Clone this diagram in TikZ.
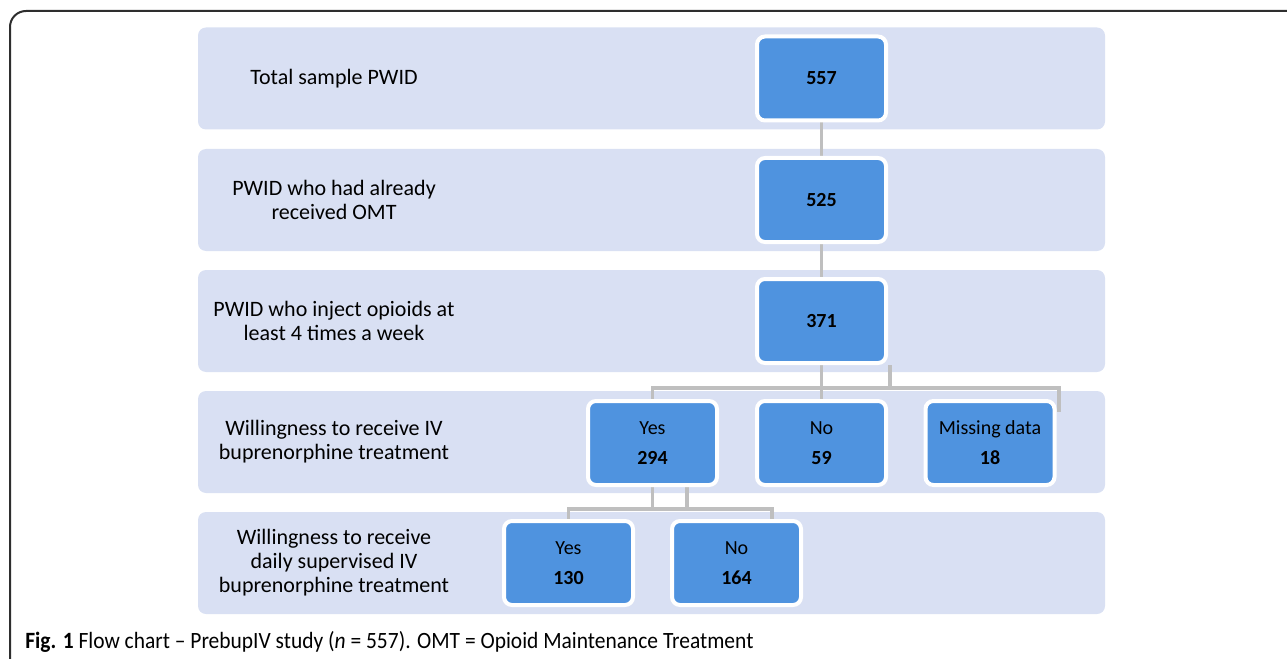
\documentclass[tikz,border=0pt]{standalone}
\usepackage{fontspec}
\setmainfont{Carlito}
\newfontfamily\capfont{Carlito}[FakeStretch=0.92]
\definecolor{bandfill}{HTML}{D9E0F3}
\definecolor{boxfill}{HTML}{4F93DF}
\definecolor{conngray}{HTML}{BFBFBF}
\definecolor{framegray}{HTML}{2E2E2E}
\pgfdeclarelayer{bg}
\pgfdeclarelayer{mid}
\pgfsetlayers{bg,mid,main}
\tikzset{
  band/.style={fill=bandfill, rounded corners=6pt, minimum width=680.25pt, minimum height=76.5pt, inner sep=0pt},
  lbl/.style={align=center, font=\fontsize{16.5}{18}\selectfont, inner sep=0pt},
  numbox/.style={fill=boxfill, draw=white, line width=3pt, rounded corners=6pt, minimum width=96.75pt, minimum height=63pt, align=center, inner sep=0pt, font=\fontsize{15}{22.5}\selectfont},
  conn/.style={draw=conngray, line width=2.8pt}
}
\begin{document}
\begin{tikzpicture}[x=0.75pt,y=-0.75pt]
\useasboundingbox (0,0) rectangle (1287,659);
% frame
\draw[framegray, line width=1.5pt, rounded corners=12pt] (10,662) -- (10,11) -- (1292,11);
% bands
\begin{pgfonlayer}{bg}
\node[band] (r1) at (651.5,78.5) {};
\node[band] (r2) at (651.5,200) {};
\node[band] (r3) at (651.5,321) {};
\node[band] (r4) at (651.5,442) {};
\node[band] (r5) at (651.5,563) {};
\end{pgfonlayer}
% labels
\node[lbl] (l1) at (334,78.5) {Total sample PWID};
\node[lbl] (l2) at (334,200) {PWID who had already\\received OMT};
\node[lbl] (l3) at (334,321) {PWID who inject opioids at\\least 4 times a week};
\node[lbl] (l4) at (334,442) {Willingness to receive IV\\buprenorphine treatment};
\node[lbl] (l5) at (334,563) {Willingness to receive\\daily supervised IV\\buprenorphine treatment};
% helper coordinates
\coordinate (f1) at (0,388);
\coordinate (f2) at (0,509);
\coordinate (x890) at (890,0);
\coordinate (x1059) at (1059,0);
\coordinate (x687) at (687,0);
\coordinate (x772) at (772,0);
% boxes
\node[numbox] (b557) at (821.5,78.5) {\textbf{557}};
\node[numbox] (b525) at (821.5,200) {\textbf{525}};
\node[numbox] (b371) at (821.5,321) {\textbf{371}};
\node[numbox] (y294) at (652.5,443) {Yes\\\textbf{294}};
\node[numbox] (n59) at (821.5,443) {No\\\textbf{59}};
\node[numbox] (m18) at (990,443) {Missing data\\\textbf{18}};
\node[numbox] (y130) at (568.5,563) {Yes\\\textbf{130}};
\node[numbox] (n164) at (736.5,563) {No\\\textbf{164}};
% connectors
\begin{pgfonlayer}{mid}
\draw[conn] (b557.south) -- (b525.north);
\draw[conn] (b525.south) -- (b371.north);
\draw[conn] (b371.south) -- (n59.north);
\draw[conn] (b371.south -| x890) -- (f1 -| x890);
\draw[conn] (y294.north) -- (y294.north |- f1) -- (f1 -| x1059) -- ++(0,24);
\draw[conn] (y294.south) -- (y294.south |- f2);
\draw[conn] (y294.south -| x687) -- (f2 -| x687);
\draw[conn] (y130.north) -- (y130.north |- f2) -- (f2 -| x772) -- (n164.north -| x772);
\end{pgfonlayer}
% caption
\node[anchor=base west, inner sep=0pt, font=\capfont\fontsize{17.5}{20}\selectfont] (cap) at (25,648) {\textbf{Fig. 1} Flow chart – PrebupIV study (\textit{n} = 557). OMT = Opioid Maintenance Treatment};
\end{tikzpicture}
\end{document}
